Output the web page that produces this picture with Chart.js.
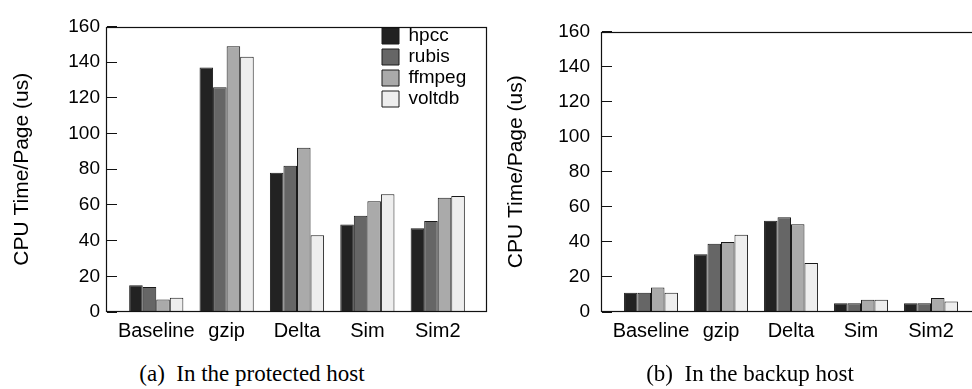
<!DOCTYPE html>
<html>
<head>
<meta charset="utf-8">
<script src="https://cdn.jsdelivr.net/npm/chart.js@4.4.0/dist/chart.umd.min.js"></script>
<style>
  html, body { margin: 0; padding: 0; background: #fff; overflow: hidden; width: 972px; height: 389px; }
  #wrap { position: relative; width: 972px; height: 389px; }
  canvas { position: absolute; top: 0; }
  .legenda { position: absolute; top: 362px; width: 400px; text-align: center; font-family: "Liberation Serif", serif; font-size: 23px; line-height: 23px; white-space: pre; color: #000; }
</style>
</head>
<body>
<div id="wrap">
  <canvas id="grafico-a" width="490" height="345" style="left:0"></canvas>
  <canvas id="grafico-b" width="500" height="345" style="left:486px"></canvas>
  <div class="legenda" style="left:52px">(a)  In the protected host</div>
  <div class="legenda" style="left:550px">(b)  In the backup host</div>
</div>
<script>
const categorias = ['Baseline', 'gzip', 'Delta', 'Sim', 'Sim2'];
const series = ['hpcc', 'rubis', 'ffmpeg', 'voltdb'];
const cores = ['#222222', '#666666', '#aaaaaa', '#eeeeee'];

// (a) protected host
const hpccA = [15, 137, 78, 49, 47];
const rubisA = [14, 126, 82, 54, 51];
const ffmpegA = [7, 149, 92, 62, 64];
const voltdbA = [8, 143, 43, 66, 65];

// (b) backup host
const hpccB = [11, 33, 52, 5, 5];
const rubisB = [11, 39, 54, 5, 5];
const ffmpegB = [14, 40, 50, 7, 8];
const voltdbB = [11, 44, 28, 7, 6];

const yTicks = { min: 0, max: 160, step: 20 };
const fonte = "'Liberation Sans', Arial, sans-serif";

// box around the plot area
const moldura = {
  id: 'moldura',
  afterDatasetsDraw(chart) {
    const { ctx, chartArea: a } = chart;
    const l = Math.round(a.left) - 0.5, t = Math.round(a.top) + 0.5;
    const r = Math.round(a.right) - 0.5, b = Math.round(a.bottom) - 0.5;
    ctx.save();
    ctx.strokeStyle = '#111';
    ctx.lineWidth = 1.2;
    ctx.strokeRect(l, t, r - l, b - t);
    ctx.restore();
  }
};

// move the legend to the upper right inside the plot
const posLegenda = {
  id: 'posLegenda',
  afterLayout(chart, args, opts) {
    if (chart.legend && opts.x !== undefined) {
      chart.legend.left = opts.x;
      chart.legend.top = opts.y;
    }
  }
};

function montarGrafico(id, valores, cfg) {
  const ctx = document.getElementById(id).getContext('2d');
  return new Chart(ctx, {
    type: 'bar',
    data: {
      datasets: series.map((nome, s) => ({
        label: nome,
        data: valores[s].map((v, i) => ({ x: i, y: v })),
        backgroundColor: cores[s],
        borderColor: '#1a1a1a',
        borderWidth: 1,
        categoryPercentage: 0.77,
        barPercentage: 1
      }))
    },
    options: {
      responsive: false,
      animation: false,
      layout: { padding: { left: 0, top: 11, right: cfg.padRight, bottom: 0 } },
      scales: {
        x: {
          type: 'linear',
          bounds: 'data',
          offset: false,
          min: -0.7,
          max: 4.7,
          grid: { display: false, drawTicks: false, offset: false },
          border: { display: false },
          afterBuildTicks: s => { s.ticks = categorias.map((c, i) => ({ value: i })); },
          ticks: {
            autoSkip: false,
            maxRotation: 0,
            padding: 9,
            color: '#000',
            font: { family: fonte, size: 20, lineHeight: 1 },
            callback: v => categorias[v]
          },
          afterFit: s => { s.height = 33; }
        },
        y: {
          min: yTicks.min,
          max: yTicks.max,
          border: { display: false },
          grid: { drawOnChartArea: false, drawTicks: true, tickLength: -10, color: '#111', lineWidth: 1 },
          ticks: {
            stepSize: yTicks.step,
            padding: cfg.tickPad,
            color: '#000',
            font: { family: fonte, size: 19, lineHeight: 1 }
          },
          title: {
            display: true,
            text: 'CPU Time/Page (us)',
            color: '#000',
            font: { family: fonte, size: 21 },
            padding: { top: cfg.titlePad, bottom: 0 }
          },
          afterFit: s => { s.width = cfg.yWidth; }
        }
      },
      plugins: {
        legend: {
          display: cfg.legenda,
          position: 'chartArea',
          align: 'start',
          labels: {
            color: '#000',
            font: { family: fonte, size: 19 },
            boxWidth: 17,
            boxHeight: 16,
            padding: 2
          }
        },
        posLegenda: { x: 380, y: 24.5 },
        tooltip: { enabled: false }
      }
    },
    plugins: [moldura, posLegenda]
  });
}

const graficoA = montarGrafico('grafico-a', [hpccA, rubisA, ffmpegA, voltdbA],
  { padRight: 3, yWidth: 107, tickPad: 17, titlePad: 10, legenda: true });
const graficoB = montarGrafico('grafico-b', [hpccB, rubisB, ffmpegB, voltdbB],
  { padRight: 6, yWidth: 116, tickPad: 22, titlePad: 18, legenda: false });
</script>
</body>
</html>
